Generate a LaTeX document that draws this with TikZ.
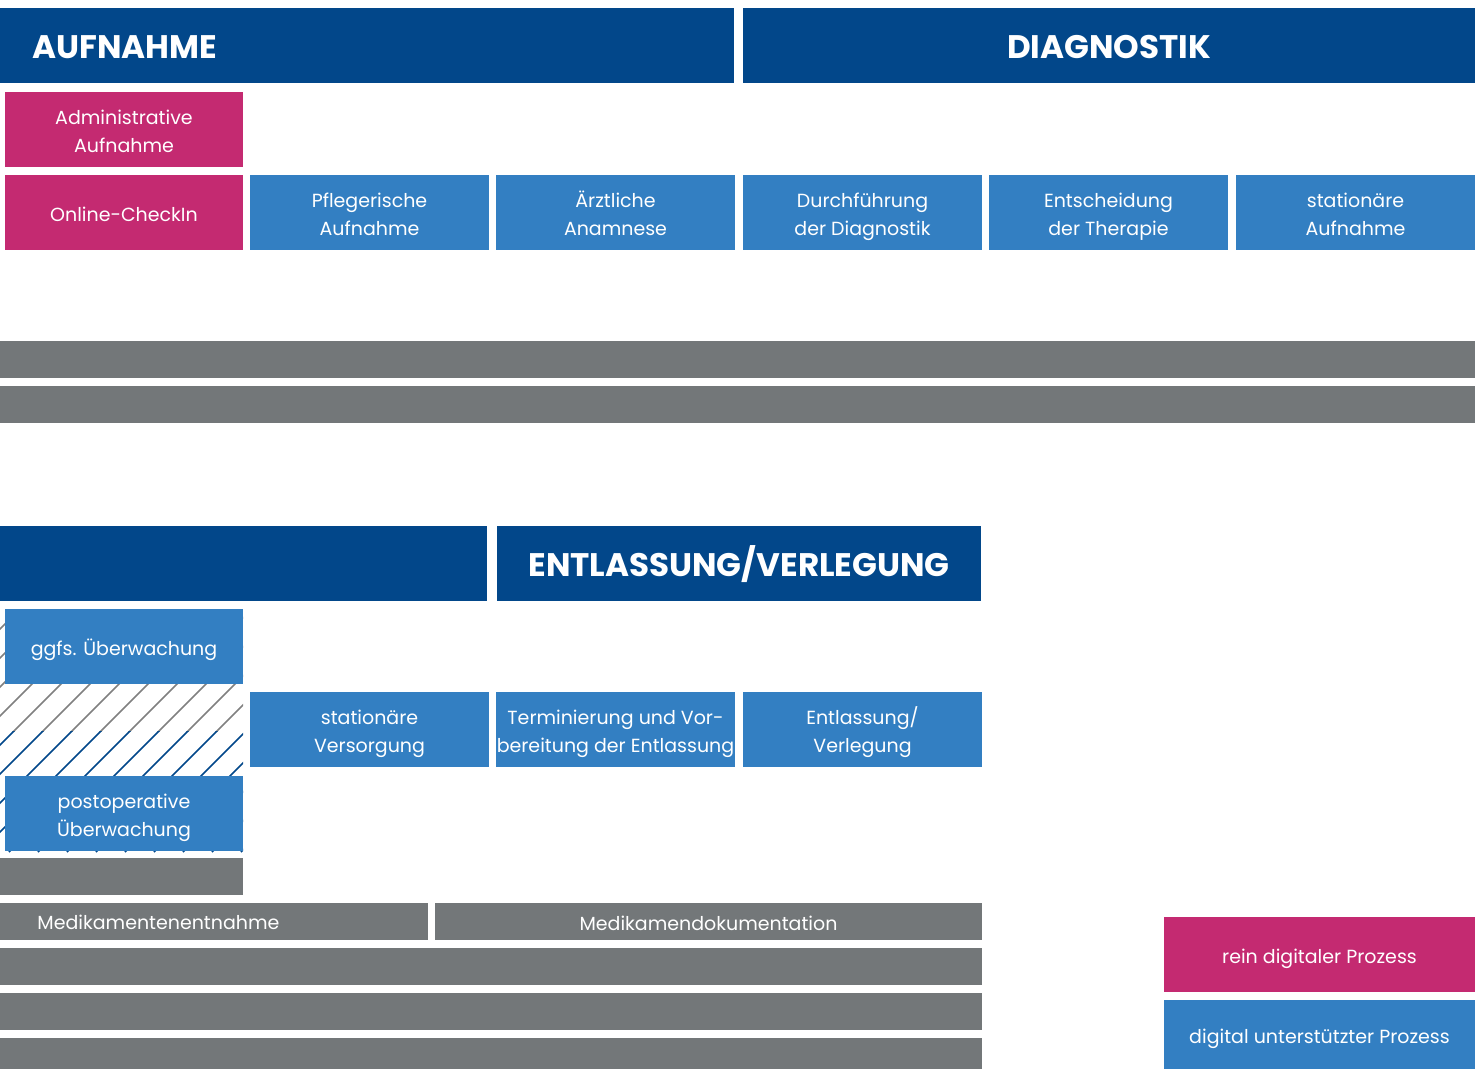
\documentclass[tikz,border=0pt]{standalone}
\usepackage{fontspec}
\setmainfont{Poppins}
\definecolor{dblue}{HTML}{02478A}
\definecolor{mblue}{HTML}{337FC2}
\definecolor{mag}{HTML}{C42A71}
\definecolor{gbar}{HTML}{737779}
\definecolor{hgray}{HTML}{808080}
\newcommand\tstrut{\rule[-0.25em]{0pt}{1.46em}}
\newcommand\hstrut{\rule[-0.25em]{0pt}{1.26em}}
\tikzset{
  strutted/.style={execute at begin node=\tstrut, execute at end node=\tstrut},
  hstrutted/.style={execute at begin node=\hstrut, execute at end node=\hstrut},
  blk/.style={fill=#1, draw=none, inner sep=0pt, outer sep=0pt, text=white, align=center,
    font=\fontsize{9.5}{14}\selectfont, strutted},
  hdrfont/.style={font=\fontsize{16.3}{19}\selectfont\bfseries, hstrutted},
  hdrtext/.style={text=white, inner sep=0pt, hdrfont},
  bartext/.style={text=white, inner sep=0pt, font=\fontsize{9.5}{14}\selectfont, strutted},
  hatchline/.style={draw=#1, line width=0.75pt}
}
% \bx[extra options]{colour}{x1}{y1}{x2}{y2}{name}{text}
\newcommand\bx[7][]{%
  \node[blk=#2, minimum width={(#5-#3)*0.5pt}, minimum height={(#6-#4)*0.5pt}, #1]
    (#7) at ({(#3+#5)/2},{(#4+#6)/2})}
\begin{document}
\begin{tikzpicture}[x=0.5pt,y=-0.5pt]
\useasboundingbox (0,0) rectangle (1482,1069);
% headers
\bx{dblue}{0}{8}{734}{83}{hA} {};
\node[hdrtext, anchor=west] (hAt) at (32,46.5) {AUFNAHME};
\bx{dblue}{743}{8}{1475}{83}{hD} {};
\node[hdrtext] (hDt) at (1109,46.5) {DIAGNOSTIK};
% row 1
\bx{mag}{5}{92}{243}{167}{adm} {\tstrut Administrative\\Aufnahme};
\bx{mag}{5}{175}{243}{250}{chk} {Online-CheckIn};
\bx{mblue}{250}{175}{489}{250}{pfl} {\tstrut Pflegerische\\Aufnahme};
\bx{mblue}{496}{175}{735}{250}{arz} {\tstrut Ärztliche\\Anamnese};
\bx{mblue}{743}{175}{982}{250}{dur} {\tstrut Durchführung\\der Diagnostik};
\bx{mblue}{989}{175}{1228}{250}{ent} {\tstrut Entscheidung\\der Therapie};
\bx{mblue}{1236}{175}{1475}{250}{sta} {\tstrut stationäre\\Aufnahme};
% gray bars
\bx{gbar}{0}{341}{1475}{378}{g1} {};
\bx{gbar}{0}{386}{1475}{423}{g2} {};
% second header
\bx{dblue}{0}{526}{487}{601}{hB} {};
\bx{dblue}{497}{526}{981}{601}{hE} {};
\node[hdrtext] (hEt) at (739,564.5) {ENTLASSUNG/VERLEGUNG};
% hatch
\begin{scope}
  \clip (0,609) rectangle (243,731);
  \foreach \k in {-10,...,9} \draw[hatchline=hgray] ({9+29*\k},852) -- ++(300,-300);
\end{scope}
\begin{scope}
  \clip (0,731) rectangle (243,853);
  \foreach \k in {-10,...,9} \draw[hatchline=dblue] ({9+29*\k},852) -- ++(300,-300);
\end{scope}
\bx{mblue}{5}{609}{243}{684}{ggf} {ggfs. Überwachung};
\bx{mblue}{5}{776}{243}{851}{pos} {\tstrut postoperative\\Überwachung};
\bx{mblue}{250}{692}{489}{767}{sv} {\tstrut stationäre\\Versorgung};
\bx{mblue}{496}{692}{735}{767}{ter} {\tstrut Terminierung und Vor-\\bereitung der Entlassung};
\bx{mblue}{743}{692}{982}{767}{ev} {\tstrut Entlassung/\\Verlegung};
% lower gray bars
\bx{gbar}{0}{858}{243}{895}{g3} {};
\bx{gbar}{0}{903}{428}{940}{g4} {};
\node[bartext, anchor=west] (g4t) at (37,920.5) {Medikamentenentnahme};
\bx{gbar}{435}{903}{982}{940}{g5} {Medikamendokumentation};
\bx{gbar}{0}{948}{982}{985}{g6} {};
\bx{gbar}{0}{993}{982}{1030}{g7} {};
\bx{gbar}{0}{1038}{982}{1069}{g8} {};
% legend
\bx{mag}{1164}{917}{1475}{992}{l1} {rein digitaler Prozess};
\bx{mblue}{1164}{1000}{1475}{1069}{l2} {digital unterstützter Prozess};
\end{tikzpicture}
\end{document}
